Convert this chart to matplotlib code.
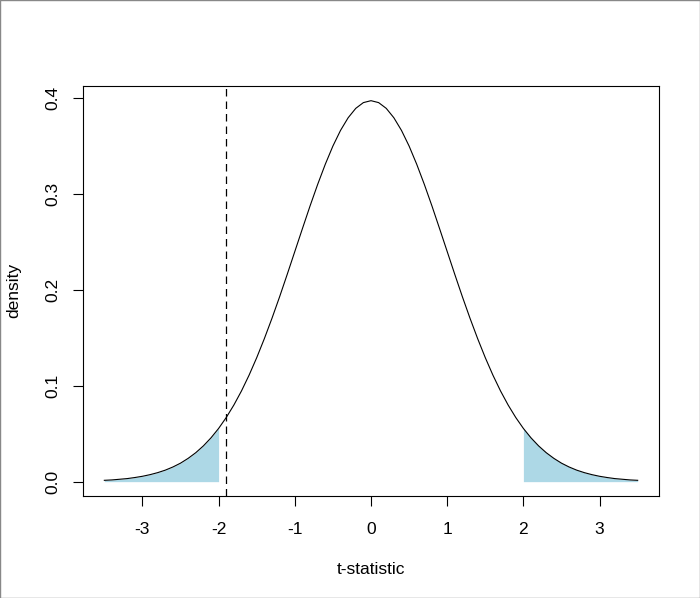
import matplotlib
matplotlib.use("Agg")
import matplotlib.pyplot as plt
from matplotlib.patches import Rectangle

# ---- data ----
t_values = [round(-3.5 + 0.1 * i, 1) for i in range(71)]
density = [
    0.0014, 0.0018, 0.0025, 0.0032, 0.0043, 0.0056, 0.0073, 0.0094, 0.0120, 0.0153,
    0.0193, 0.0243, 0.0302, 0.0373, 0.0457, 0.0555, 0.0669, 0.0799, 0.0946, 0.1111,
    0.1293, 0.1491, 0.1703, 0.1927, 0.2161, 0.2400, 0.2639, 0.2875, 0.3100, 0.3310,
    0.3500, 0.3663, 0.3795, 0.3893, 0.3953, 0.3973, 0.3953, 0.3893, 0.3795, 0.3663,
    0.3500, 0.3310, 0.3100, 0.2875, 0.2639, 0.2400, 0.2161, 0.1927, 0.1703, 0.1491,
    0.1293, 0.1111, 0.0946, 0.0799, 0.0669, 0.0555, 0.0457, 0.0373, 0.0302, 0.0243,
    0.0193, 0.0153, 0.0120, 0.0094, 0.0073, 0.0056, 0.0043, 0.0032, 0.0025, 0.0018,
    0.0014,
]
critical_value = 2.0
observed_t = -1.9
x_ticks = [-3, -2, -1, 0, 1, 2, 3]
x_tick_labels = ["-3", "-2", "-1", "0", "1", "2", "3"]
y_ticks = [0.0, 0.1, 0.2, 0.3, 0.4]
y_tick_labels = ["0.0", "0.1", "0.2", "0.3", "0.4"]
x_label = "t-statistic"
y_label = "density"

plt.rcParams["font.family"] = ["Liberation Sans", "DejaVu Sans"]
fig = plt.figure(figsize=(7.0, 5.98), dpi=100)
fig.patches.append(Rectangle((0.0007, 0.0008), 0.9986, 0.9984, transform=fig.transFigure,
                             fill=False, edgecolor="#888888", linewidth=1.0))
ax = fig.add_axes([83 / 700, 1 - 495.5 / 598, 576 / 700, 410 / 598])

left_x = [x for x in t_values if x <= -critical_value + 1e-9]
left_y = [d for x, d in zip(t_values, density) if x <= -critical_value + 1e-9]
right_x = [x for x in t_values if x >= critical_value - 1e-9]
right_y = [d for x, d in zip(t_values, density) if x >= critical_value - 1e-9]
ax.fill_between(left_x, 0, left_y, color="#ADD8E6", linewidth=0)
ax.fill_between(right_x, 0, right_y, color="#ADD8E6", linewidth=0)
ax.plot(t_values, density, color="black", linewidth=0.8)
ax.axvline(observed_t, color="black", linewidth=0.9, linestyle=(0, (6, 4)))

xmin, xmax = min(t_values), max(t_values)
xr = xmax - xmin
ymin, ymax = min(density), max(density)
yr = ymax - ymin
ax.set_xlim(xmin - 0.04 * xr, xmax + 0.04 * xr)
ax.set_ylim(ymin - 0.04 * yr, ymax + 0.04 * yr)

ax.set_xticks(x_ticks)
ax.set_xticklabels(x_tick_labels)
ax.set_yticks(y_ticks)
ax.set_yticklabels(y_tick_labels, rotation=90, va="center")
ax.tick_params(direction="out", length=7, width=0.8, labelsize=12.5, pad=9, colors="black")
ax.tick_params(axis="x", pad=12)
ax.set_xlabel(x_label, fontsize=12.5, labelpad=18)
ax.set_ylabel(y_label, fontsize=12.5, labelpad=18)
for s in ax.spines.values():
    s.set_linewidth(0.8)

fig.savefig("out.png", dpi=100)
